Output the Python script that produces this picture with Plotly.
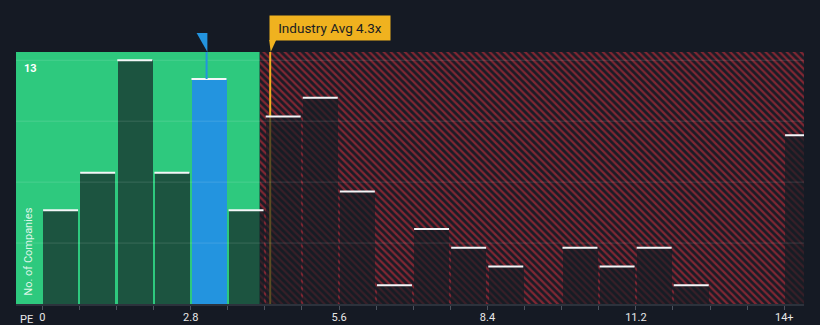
import plotly.graph_objects as go

# PE distribution of peer companies, bins of width 0.7 (last bin is 14+)
bin_width = 0.7
bin_starts = [round(i * bin_width, 1) for i in range(21)]
counts = [5, 7, 13, 7, 12, 5, 10, 11, 6, 1, 4, 3, 2, 0, 3, 2, 3, 1, 0, 0, 9]

company_pe = 3.1
industry_avg = 4.3
fair_limit = 4.1

tick_vals = [0, 2.8, 5.6, 8.4, 11.2, 14]
tick_text = ["0", "2.8", "5.6", "8.4", "11.2", "14+"]
grid_vals = [3.25, 6.5, 9.75, 13]
y_max_label = "13"

x_range = [-0.496, 14.372]
y_range = [0, 13.44]

BG = "#151a24"
GREEN = "#2ec97e"
BLUE = "#2394df"
ORANGE = "#f0b21f"
HATCH_RED = "rgb(128,38,50)"
HATCH_BG = "#1a1c26"
BAR_DARK = "rgba(20,28,36,0.68)"

company_bin = int(company_pe // bin_width)

fig = go.Figure()

# background: hatched zone above the fair-value limit
fig.add_trace(go.Bar(
    x=[(fair_limit + x_range[1]) / 2], y=[y_range[1]],
    width=[x_range[1] - fair_limit],
    marker=dict(color=HATCH_BG, line=dict(width=0),
                pattern=dict(shape="\\", bgcolor=HATCH_BG, fgcolor=HATCH_RED,
                             size=5, solidity=0.45, fillmode="replace")),
    xaxis="x", yaxis="y", hoverinfo="skip", showlegend=False,
))

# industry average marker line (sits beneath the bars)
fig.add_trace(go.Scatter(
    x=[industry_avg, industry_avg], y=[0, y_range[1]], mode="lines",
    line=dict(color=ORANGE, width=2), xaxis="x", yaxis="y",
    hoverinfo="skip", showlegend=False,
))

# histogram bars
bar_x = [s + bin_width / 2 for s in bin_starts]
bar_colors = [BLUE if i == company_bin else BAR_DARK for i in range(len(counts))]
fig.add_trace(go.Bar(
    x=bar_x, y=counts, width=[0.66] * len(counts),
    marker=dict(color=bar_colors, line=dict(width=0)),
    xaxis="x2", yaxis="y2", hoverinfo="skip", showlegend=False,
))

# white caps on top of every non-empty bar
cap_x, cap_y = [], []
for s, c in zip(bin_starts, counts):
    if c > 0:
        cap_x += [s + 0.015, s + 0.675, None]
        cap_y += [c, c, None]
fig.add_trace(go.Scatter(
    x=cap_x, y=cap_y, mode="lines", line=dict(color="#f4f6f8", width=2),
    xaxis="x2", yaxis="y2", hoverinfo="skip", showlegend=False,
))

# faint horizontal grid
gx, gy = [], []
for g in grid_vals:
    gx += [x_range[0], x_range[1], None]
    gy += [g, g, None]
fig.add_trace(go.Scatter(
    x=gx, y=gy, mode="lines", line=dict(color="rgba(255,255,255,0.13)", width=1),
    xaxis="x2", yaxis="y2", hoverinfo="skip", showlegend=False,
))

shapes = [
    # green "fair" zone
    dict(type="rect", xref="x", yref="paper", x0=x_range[0], x1=fair_limit,
         y0=0, y1=1, fillcolor=GREEN, line=dict(width=0), layer="below"),
    # company marker stem
    dict(type="line", xref="x", yref="y", x0=company_pe, x1=company_pe,
         y0=counts[company_bin], y1=y_range[1], line=dict(color=BLUE, width=2),
         layer="above"),
    # company marker flag
    dict(type="path", xref="x", yref="paper", xsizemode="pixel", ysizemode="pixel",
         xanchor=company_pe, yanchor=1, path="M -10,19 L 0.8,19 L 0.8,0 Z",
         fillcolor=BLUE, line=dict(width=0), layer="above"),
    # tail of the industry-average label
    dict(type="path", xref="x", yref="paper", xsizemode="pixel", ysizemode="pixel",
         xanchor=industry_avg, yanchor=1, path="M -1,12 L 6,12 L 0.5,0 Z",
         fillcolor=ORANGE, line=dict(width=0), layer="above"),
]

annotations = [
    dict(text="Industry Avg 4.3x", xref="x", yref="paper", x=industry_avg, y=1,
         xanchor="left", yanchor="bottom", xshift=-1, yshift=11,
         showarrow=False, bgcolor=ORANGE, borderpad=4, width=112, align="center",
         font=dict(family="Roboto", size=13.5, color="#1b1d22")),
    dict(text=y_max_label, xref="paper", yref="y", x=6 / 788, y=13,
         xanchor="left", yanchor="middle", yshift=-8, showarrow=False,
         font=dict(family="Roboto", size=11, color="#ffffff", weight="bold")),
    dict(text="No. of Companies", xref="paper", yref="paper", x=11.7 / 788, y=52 / 252,
         xanchor="center", yanchor="middle", textangle=-90, showarrow=False,
         font=dict(family="Roboto", size=11, color="rgba(255,255,255,0.85)")),
    dict(text="PE", xref="paper", yref="paper", x=2 / 788, y=0, yshift=-15,
         xanchor="left", yanchor="middle", showarrow=False,
         font=dict(family="Roboto", size=11, color="#e8e8e8")),
]

all_ticks = bin_starts
all_text = [tick_text[tick_vals.index(v)] if v in tick_vals else "" for v in all_ticks]

fig.update_layout(
    width=820, height=325,
    margin=dict(l=16, r=16, t=52, b=21),
    paper_bgcolor=BG, plot_bgcolor=BG,
    barmode="overlay", bargap=0,
    shapes=shapes, annotations=annotations,
    xaxis=dict(range=x_range, tickmode="array", tickvals=all_ticks, ticktext=all_text,
               ticks="outside", ticklen=4, tickwidth=1, tickcolor="#4d535e",
               ticklabelstandoff=-2,
               showline=True, linecolor="#2c323c", linewidth=2,
               showgrid=False, zeroline=False, automargin=False,
               tickfont=dict(family="Roboto", size=11, color="#e8e8e8")),
    yaxis=dict(range=y_range, showgrid=False, zeroline=False, showticklabels=False,
               automargin=False),
    xaxis2=dict(range=x_range, overlaying="x", visible=False),
    yaxis2=dict(range=y_range, overlaying="y", visible=False),
)

fig.write_html("out.html")
